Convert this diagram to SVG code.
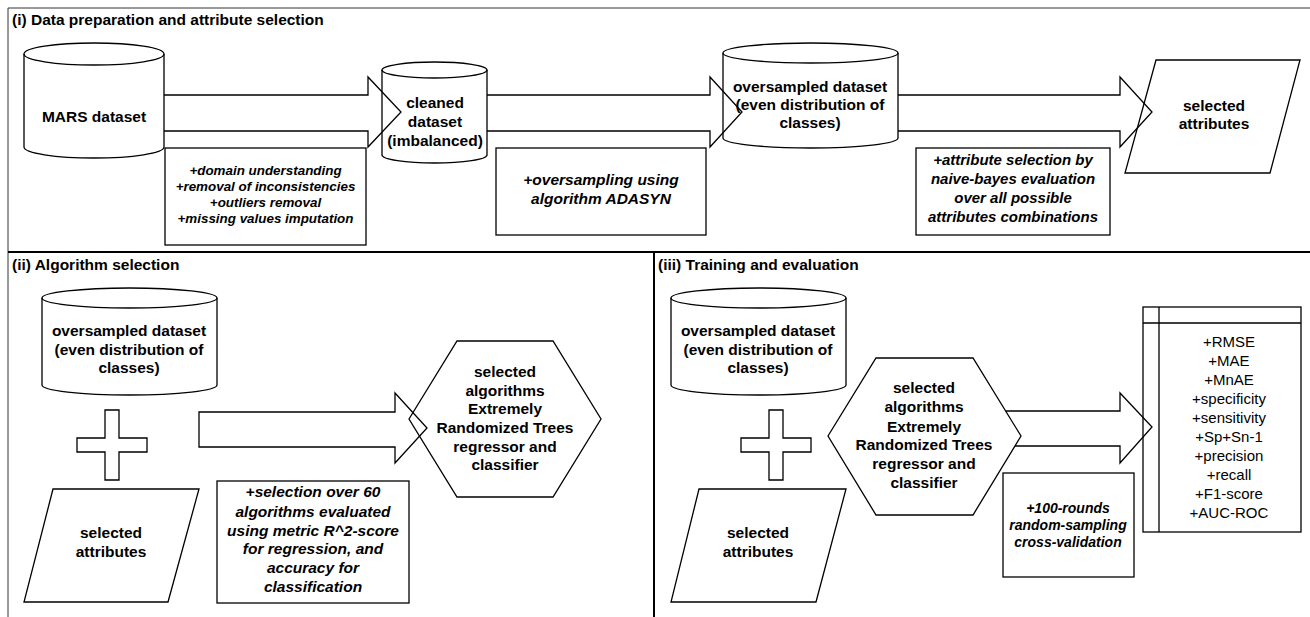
<svg xmlns="http://www.w3.org/2000/svg" width="1310" height="617" viewBox="0 0 1310 617">
<style>
text{font-family:"Liberation Sans",Arial,Helvetica,sans-serif;fill:#000;text-anchor:middle}
.t{font-weight:bold;font-size:15.5px}
.ttl{font-weight:bold;font-size:15.5px;text-anchor:start}
.bi{font-weight:bold;font-style:italic;font-size:15.5px}
.bi2{font-weight:bold;font-style:italic;font-size:13.4px}
.bi3{font-weight:bold;font-style:italic;font-size:15px}
.bi4{font-weight:bold;font-style:italic;font-size:14px}
.n{font-size:15px}
.s{fill:#fff;stroke:#000;stroke-width:1.3}
.a{fill:none;stroke:#000;stroke-width:1.3;stroke-linejoin:miter}
.frame{fill:none;stroke:#333;stroke-width:1}
.div{fill:none;stroke:#000;stroke-width:2}
</style>

<g id="frame">
<path class="frame" d="M8,617 V8 H1310"/>
<path class="div" d="M8,252 H1310"/>
<path class="div" d="M654,252 V617"/>
<text class="ttl" x="12" y="25">(i) Data preparation and attribute selection</text>
<text class="ttl" x="12" y="270">(ii) Algorithm selection</text>
<text class="ttl" x="658" y="270">(iii) Training and evaluation</text>
</g>

<g id="mars">
<path class="s" d="M24,54 A70,11 0 0 1 164,54 V147 A70,11 0 0 1 24,147 Z"/>
<path class="a" d="M24,54 A70,11 0 0 0 164,54"/>
<text class="t" x="94" y="122">MARS dataset</text>
</g>

<g id="cleaned">
<path class="s" d="M382,70 A52.5,8 0 0 1 487,70 V155 A52.5,8 0 0 1 382,155 Z"/>
<path class="a" d="M382,70 A52.5,8 0 0 0 487,70"/>
<text class="t" x="435" y="108">cleaned</text>
<text class="t" x="435" y="127">dataset</text>
<text class="t" x="435" y="146">(imbalanced)</text>
</g>

<g id="oversampled1">
<path class="s" d="M723,53 A87.5,10 0 0 1 898,53 V138 A87.5,10 0 0 1 723,138 Z"/>
<path class="a" d="M723,53 A87.5,10 0 0 0 898,53"/>
<text class="t" x="810" y="92">oversampled dataset</text>
<text class="t" x="810" y="110">(even distribution of</text>
<text class="t" x="810" y="128">classes)</text>
</g>

<g id="attributes1">
<polygon class="s" points="1156,60 1300,60 1270,173 1125,173"/>
<text class="t" x="1214" y="111">selected</text>
<text class="t" x="1214" y="129">attributes</text>
</g>

<g id="note1">
<rect class="s" x="165" y="148" width="201" height="97"/>
<text class="bi2" x="265.5" y="175">+domain understanding</text>
<text class="bi2" x="265.5" y="191">+removal of inconsistencies</text>
<text class="bi2" x="265.5" y="207">+outliers removal</text>
<text class="bi2" x="265.5" y="223">+missing values imputation</text>
</g>

<g id="note2">
<rect class="s" x="496" y="148" width="210" height="87"/>
<text class="bi" x="601" y="185">+oversampling using</text>
<text class="bi" x="601" y="204">algorithm ADASYN</text>
</g>

<g id="note3">
<rect class="s" x="916" y="148" width="194" height="87"/>
<text class="bi3" x="1013" y="165">+attribute selection by</text>
<text class="bi3" x="1013" y="184">naive-bayes evaluation</text>
<text class="bi3" x="1013" y="203">over all possible</text>
<text class="bi3" x="1013" y="222">attributes combinations</text>
</g>

<g id="oversampled2">
<path class="s" d="M42,298 A87.5,10 0 0 1 217,298 V385 A87.5,10 0 0 1 42,385 Z"/>
<path class="a" d="M42,298 A87.5,10 0 0 0 217,298"/>
<text class="t" x="129" y="336">oversampled dataset</text>
<text class="t" x="129" y="355">(even distribution of</text>
<text class="t" x="129" y="373">classes)</text>
</g>

<g id="plus2">
<path class="s" d="M105,410 H119 V438 H147 V452 H119 V480 H105 V452 H77 V438 H105 Z"/>
</g>

<g id="attributes2">
<polygon class="s" points="53,489 199,489 168,602 24,602"/>
<text class="t" x="111" y="538">selected</text>
<text class="t" x="111" y="557">attributes</text>
</g>

<g id="algorithms2">
<polygon class="s" points="409,419 457,341 553,341 601,419 553,497 457,497"/>
<text class="t" x="505" y="377">selected</text>
<text class="t" x="505" y="396">algorithms</text>
<text class="t" x="505" y="414">Extremely</text>
<text class="t" x="505" y="433">Randomized Trees</text>
<text class="t" x="505" y="452">regressor and</text>
<text class="t" x="505" y="470">classifier</text>
</g>

<g id="note4">
<rect class="s" x="217" y="481" width="192" height="122"/>
<text class="bi" x="313" y="497">+selection over 60</text>
<text class="bi" x="313" y="517">algorithms evaluated</text>
<text class="bi" x="313" y="536">using metric R^2-score</text>
<text class="bi" x="313" y="554">for regression, and</text>
<text class="bi" x="313" y="573">accuracy for</text>
<text class="bi" x="313" y="592">classification</text>
</g>

<g id="oversampled3">
<path class="s" d="M671,298 A87.5,10 0 0 1 846,298 V385 A87.5,10 0 0 1 671,385 Z"/>
<path class="a" d="M671,298 A87.5,10 0 0 0 846,298"/>
<text class="t" x="758" y="336">oversampled dataset</text>
<text class="t" x="758" y="355">(even distribution of</text>
<text class="t" x="758" y="373">classes)</text>
</g>

<g id="plus3">
<path class="s" d="M769,410 H783 V438 H811 V452 H783 V480 H769 V452 H741 V438 H769 Z"/>
</g>

<g id="attributes3">
<polygon class="s" points="699,489 846,489 816,602 671,602"/>
<text class="t" x="758" y="538">selected</text>
<text class="t" x="758" y="557">attributes</text>
</g>

<g id="algorithms3">
<polygon class="s" points="828,436 876,358 973,358 1021,436 973,515 876,515"/>
<text class="t" x="924" y="393">selected</text>
<text class="t" x="924" y="412">algorithms</text>
<text class="t" x="924" y="432">Extremely</text>
<text class="t" x="924" y="450">Randomized Trees</text>
<text class="t" x="924" y="469">regressor and</text>
<text class="t" x="924" y="488">classifier</text>
</g>

<g id="note5">
<rect class="s" x="1003" y="473" width="131" height="104"/>
<text class="bi4" x="1068" y="513">+100-rounds</text>
<text class="bi4" x="1068" y="530">random-sampling</text>
<text class="bi4" x="1068" y="547">cross-validation</text>
</g>

<g id="metrics">
<rect class="s" x="1143" y="307" width="158" height="225"/>
<path class="a" d="M1143,323 H1301 M1159,307 V532"/>
<text class="n" x="1229" y="347">+RMSE</text>
<text class="n" x="1229" y="366">+MAE</text>
<text class="n" x="1229" y="385">+MnAE</text>
<text class="n" x="1229" y="404">+specificity</text>
<text class="n" x="1229" y="423">+sensitivity</text>
<text class="n" x="1229" y="442">+Sp+Sn-1</text>
<text class="n" x="1229" y="461">+precision</text>
<text class="n" x="1229" y="480">+recall</text>
<text class="n" x="1229" y="499">+F1-score</text>
<text class="n" x="1229" y="518">+AUC-ROC</text>
</g>

<g id="connectors">
<path class="a" d="M164,95 H368 V77 L401,112 L368,147 V131 H164"/>
<path class="a" d="M487,95 H710 V77 L742,112 L710,147 V131 H487"/>
<path class="a" d="M898,95 H1120 V77 L1152,112 L1120,147 V131 H898"/>
<path class="a" d="M199,412 H395 V393 L427,428 L395,463 V447 H199 Z"/>
<path class="a" d="M1006,411 H1120 V393 L1152,427 L1120,463 V446 H1015"/>
</g>
</svg>
